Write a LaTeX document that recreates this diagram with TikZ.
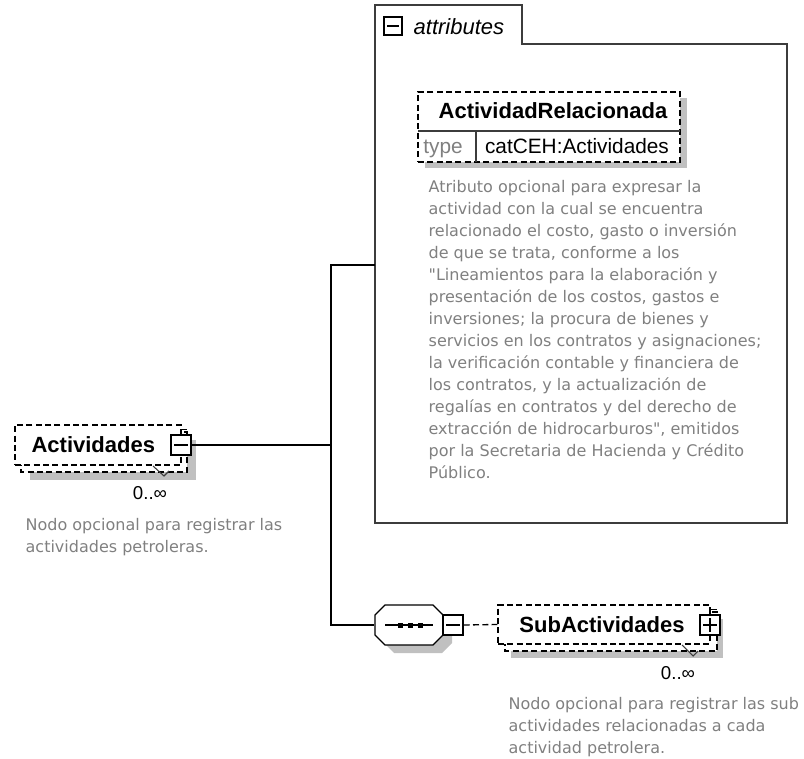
\documentclass[tikz,border=0pt]{standalone}
\usepackage{fontspec}
\setmainfont{Liberation Sans}
\newfontfamily\notefont{DejaVu Sans}
\usepackage{xcolor}
\usetikzlibrary{positioning}

\definecolor{shadegray}{RGB}{192,192,192}
\definecolor{notegray}{RGB}{128,128,128}
\definecolor{framegray}{RGB}{60,60,60}

\begin{document}
\begin{tikzpicture}[x=0.75pt, y=-0.75pt, line width=1pt,
  dashbox/.style={draw, dash pattern=on 4.5pt off 2.5pt, fill=white},
  elem/.style={dashbox, inner sep=0pt, font=\fontsize{16.5}{18}\selectfont\bfseries},
  btn/.style={draw, solid, fill=white, minimum width=15pt, minimum height=15pt, inner sep=0pt},
  minusbtn/.style={btn, path picture={\draw ([xshift=2.5pt]path picture bounding box.west) -- ([xshift=-2.5pt]path picture bounding box.east);}},
  plusbtn/.style={btn, path picture={\draw ([xshift=2.5pt]path picture bounding box.west) -- ([xshift=-2.5pt]path picture bounding box.east);
     \draw ([yshift=-2.5pt]path picture bounding box.north) -- ([yshift=2.5pt]path picture bounding box.south);}},
  occurs/.style={inner sep=0pt, font=\fontsize{14}{16}\selectfont},
  note/.style={anchor=north west, inner sep=0pt, align=left, text=notegray, font=\notefont\fontsize{12}{16.5}\selectfont}
]
\useasboundingbox (0,0) rectangle (804,759);

% attributes frame
\draw[framegray, line width=1.4pt] (375,5) -- (522,5) -- (522,44) -- (787,44) -- (787,523) -- (375,523) -- cycle;
\node[minusbtn, minimum width=13.5pt, minimum height=13.5pt] (attrbtn) at (393,26) {};
\node[anchor=west, inner sep=0pt, font=\fontsize{16.5}{18}\selectfont\itshape] (attrtitle) at (413,27) {attributes};
\coordinate (attrin) at (375,265);

\fill[shadegray] (425,98) rectangle (687,168);
\node[elem, minimum width=196.5pt, minimum height=52.5pt] (attrel) at (549,127) {};
\draw[framegray] (418,131) -- (680,131);
\draw[framegray] (476,131) -- (476,162);
\node[inner sep=0pt, font=\fontsize{16.5}{18}\selectfont\bfseries] (attrname) at (553,111) {ActividadRelacionada};
\node[anchor=base, inner sep=0pt, text=notegray, font=\fontsize{15.6}{18}\selectfont] (attrtype) at (443,154) {type};
\node[anchor=base, inner sep=0pt, font=\fontsize{15.6}{18}\selectfont] (attrtypeval) at (577,154) {catCEH:Actividades};
\node[note] (attrnote) at (428,180) {Atributo opcional para expresar la\\actividad con la cual se encuentra\\relacionado el costo, gasto o inversión\\de que se trata, conforme a los\\"Lineamientos para la elaboración y\\presentación de los costos, gastos e\\inversiones; la procura de bienes y\\servicios en los contratos y asignaciones;\\la verificación contable y financiera de\\los contratos, y la actualización de\\regalías en contratos y del derecho de\\extracción de hidrocarburos", emitidos\\por la Secretaria de Hacienda y Crédito\\Público.};

% Actividades
\fill[shadegray] (30,440) rectangle (196,480);
\draw[dashbox] (21,432) rectangle (187,472);
\node[elem, minimum width=124.5pt, minimum height=30pt] (act) at (98,445) {\hspace{-7pt}Actividades};
\node[minusbtn] (actbtn) at (181,445) {};
\draw (actbtn.north) -- ++(0,-5) -- ++(6,0);
\draw[framegray, line width=0.8pt] (153,466) -- (164,476) -- (169,471);
\node[occurs] (actocc) at (150,493) {0..∞};
\node[note] (actnote) at (25,518) {Nodo opcional para registrar las\\actividades petroleras.};

\coordinate (fork) at (331,445);
\draw (actbtn.east) -- (fork);

% sequence
\fill[shadegray] (394,613) -- (442,613) -- (452,623) -- (452,643) -- (442,653) -- (394,653) -- (384,643) -- (384,623) -- cycle;
\node[minimum width=51pt, minimum height=30pt, inner sep=0pt] (seq) at (409,625) {};
\draw[fill=white] (385,605) -- (433,605) -- (443,615) -- (443,635) -- (433,645) -- (385,645) -- (375,635) -- (375,615) -- cycle;
\draw (385,625) -- (433,625);
\foreach \x in {400,410,420}
  \fill (\x-2.5,622.5) rectangle ++(5,5);
\node[minusbtn] (seqbtn) at (453,625) {};

\draw (attrin) -| (fork) |- (seq.west);

% SubActividades
\fill[shadegray] (511,619) rectangle (723,658);
\draw[dashbox] (505,612) rectangle (717,651);
\node[elem, minimum width=159pt, minimum height=29.25pt] (sub) at (604,624.5) {\hspace{-3pt}SubActividades};
\node[plusbtn] (subbtn) at (710,625) {};
\draw (subbtn.north) -- ++(0,-5) -- ++(7,0);
\draw[framegray, line width=0.8pt] (682,645) -- (693,656) -- (698,651);
\node[occurs] (subocc) at (678,673) {0..∞};
\node[note] (subnote) at (508,697) {Nodo opcional para registrar las sub\\actividades relacionadas a cada\\actividad petrolera.};

\draw[dash pattern=on 4.5pt off 2.5pt] (seqbtn.east) -- (sub.west);

\end{tikzpicture}
\end{document}
